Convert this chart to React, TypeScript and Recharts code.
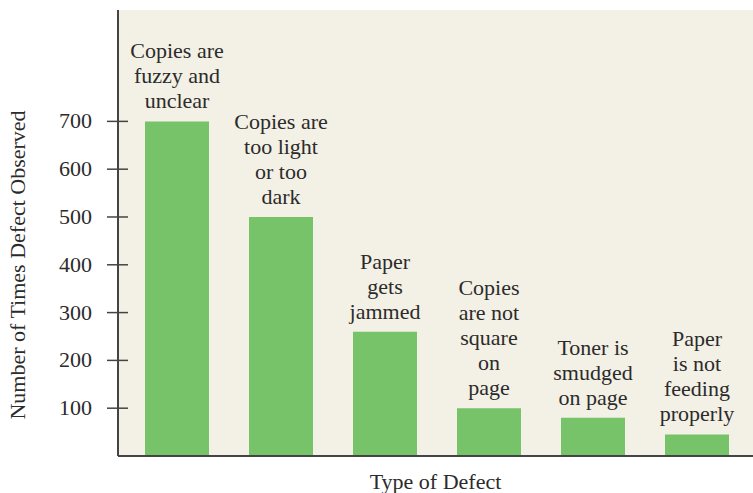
import { BarChart, Bar, XAxis, YAxis, CartesianGrid, LabelList } from "recharts";

const defects = ["fuzzy", "lightDark", "jammed", "notSquare", "smudged", "notFeeding"];
const counts = [700, 500, 260, 100, 80, 45];
const barLabels = [
  ["Copies are", "fuzzy and", "unclear"],
  ["Copies are", "too light", "or too", "dark"],
  ["Paper", "gets", "jammed"],
  ["Copies", "are not", "square", "on", "page"],
  ["Toner is", "smudged", "on page"],
  ["Paper", "is not", "feeding", "properly"],
];
const yTicks = [100, 200, 300, 400, 500, 600, 700];

const data = defects.map((d, i) => ({ name: d, count: counts[i], idx: i }));

const FONT = "'Liberation Serif', 'DejaVu Serif', serif";
const INK = "#2b2b2b";

const YTick = ({ x, y, payload }: any) => (
  <g>
    <line x1={x - 11} x2={x + 10} y1={y} y2={y} stroke="#444" strokeWidth={1.5} />
    <text x={x - 26} y={y} dy={7} textAnchor="end" fontSize={22} fontFamily={FONT} fill={INK}>
      {payload.value}
    </text>
  </g>
);

const BarText = ({ x, y, width, index }: any) => {
  const lines = barLabels[index] || [];
  const cx = x + width / 2;
  const lastBase = y - 13;
  return (
    <text textAnchor="middle" fontSize={22} fontFamily={FONT} fill={INK}>
      {lines.map((l, i) => (
        <tspan key={i} x={cx} y={lastBase - (lines.length - 1 - i) * 25}>
          {l}
        </tspan>
      ))}
    </text>
  );
};

export default function App() {
  return (
    <div style={{ position: "absolute", left: 0, top: 0, width: 753, height: 493, background: "#fff" }}>
      <BarChart
        width={753}
        height={493}
        data={data}
        margin={{ top: 10, right: 0, bottom: 0, left: 0 }}
        barCategoryGap={40}
      >
        <CartesianGrid horizontal={false} vertical={false} fill="#f3f0e5" stroke="none" />
        <XAxis
          dataKey="name"
          height={37}
          tick={false}
          tickLine={false}
          axisLine={{ stroke: "#444", strokeWidth: 2 }}
          padding={{ left: 7, right: 4 }}
          label={{
            value: "Type of Defect",
            position: "insideBottom",
            offset: 4,
            fontSize: 22,
            fontFamily: FONT,
            fill: INK,
          }}
        />
        <YAxis
          width={118}
          domain={[0, 933]}
          ticks={yTicks}
          interval={0}
          tickSize={0}
          tickMargin={0}
          tickLine={false}
          tick={<YTick />}
          axisLine={{ stroke: "#444", strokeWidth: 2 }}
          label={{
            value: "Number of Times Defect Observed",
            angle: -90,
            position: "insideLeft",
            offset: 0,
            dx: 17,
            dy: 32,
            fontSize: 22,
            fontFamily: FONT,
            fill: INK,
            style: { textAnchor: "middle" },
          }}
        />
        <Bar dataKey="count" fill="#76c36a" barSize={64} isAnimationActive={false}>
          <LabelList dataKey="count" content={<BarText />} />
        </Bar>
      </BarChart>
    </div>
  );
}
